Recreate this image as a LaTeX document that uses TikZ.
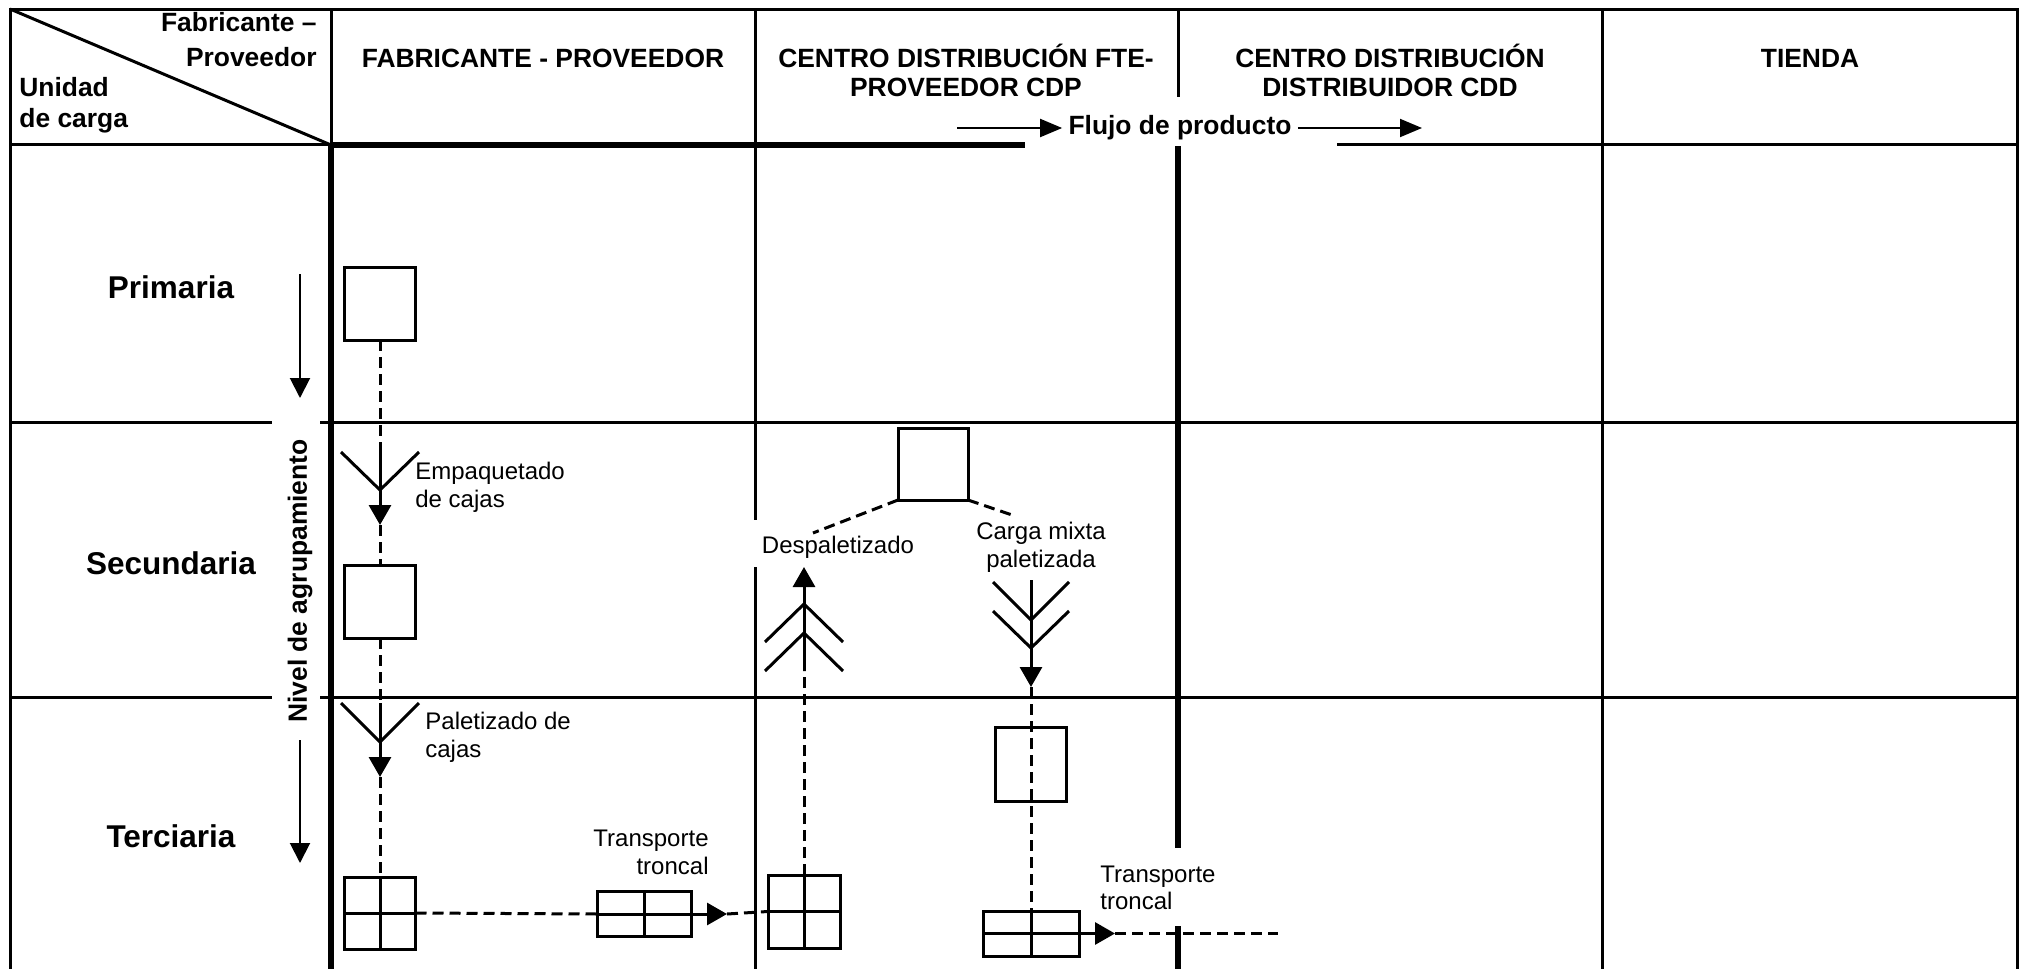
\documentclass[tikz,border=0pt]{standalone}
\usepackage{fontspec}
\setmainfont{Liberation Sans}
\usetikzlibrary{arrows.meta}
\begin{document}
\begin{tikzpicture}[x=0.5pt,y=-0.5pt,
  gridthin/.style={line width=1.5pt},
  gridthick/.style={line width=2.8pt},
  box/.style={draw, line width=1.5pt, inner sep=0pt, outer sep=0pt},
  inner/.style={line width=1.5pt},
  flow/.style={line width=1.5pt, dash pattern=on 5.5pt off 3pt},
  solidflow/.style={line width=1.5pt},
  tri/.style={-{Triangle[length=10pt,width=11pt]}},
  levelarrow/.style={line width=1pt, -{Triangle[length=10pt,width=10pt]}},
  flujoarrow/.style={line width=1pt, -{Triangle[length=11pt,width=9pt]}},
  hdr/.style={font=\fontsize{13.2}{15}\selectfont\bfseries, inner sep=0pt},
  rowlbl/.style={font=\fontsize{15.75}{18}\selectfont\bfseries, inner sep=0pt},
  note/.style={font=\fontsize{12}{14}\selectfont, inner sep=0pt},
]
\useasboundingbox (0,0) rectangle (2026,969);

% ---------- table grid ----------
\draw[gridthin, line cap=rect] (10,969) -- (10,9) -- (2017,9) -- (2017,969);
\draw[gridthin] (10,9) -- (331,145);
% header bottom line
\draw[gridthin] (10,144) -- (331,144);
\draw[gridthick] (331,145) -- (1025,145);
\draw[gridthin] (1337,144) -- (2017,144);
% columns
\draw[gridthin] (331,9) -- (331,145);
\draw[gridthick] (331,145) -- (331,969);
\draw[gridthin] (755,9) -- (755,520);
\draw[gridthin] (755,567) -- (755,969);
\draw[gridthin] (1178,9) -- (1178,97);
\draw[gridthick] (1178,146) -- (1178,848);
\draw[gridthick] (1178,926) -- (1178,969);
\draw[gridthin] (1602,9) -- (1602,969);
% rows
\draw[gridthin] (10,422) -- (272,422);
\draw[gridthin] (320,422) -- (2017,422);
\draw[gridthin] (10,697) -- (272,697);
\draw[gridthin] (320,697) -- (2017,697);

% ---------- header texts ----------
\node[hdr, anchor=base east] (fp1) at (317,32) {Fabricante –};
\node[hdr, anchor=base east] (fp2) at (317,66) {Proveedor};
\node[hdr, anchor=base west] (uc1) at (19,97) {Unidad};
\node[hdr, anchor=base west] (uc2) at (19,127) {de carga};

\node[hdr, anchor=base] (hfab) at (543,67) {FABRICANTE - PROVEEDOR};
\node[hdr, anchor=base] (hcdp1) at (966,67) {CENTRO DISTRIBUCIÓN FTE-};
\node[hdr, anchor=base] (hcdp2) at (966,97) {PROVEEDOR CDP};
\node[hdr, anchor=base] (hcdd1) at (1390,67) {CENTRO DISTRIBUCIÓN};
\node[hdr, anchor=base] (hcdd2) at (1390,97) {DISTRIBUIDOR CDD};
\node[hdr, anchor=base] (htienda) at (1810,67) {TIENDA};

\node[hdr, anchor=base, inner sep=3pt] (flujo) at (1180,134) {Flujo de producto};
\coordinate (fa1) at (957,128);
\coordinate (fa2) at (1422,128);
\draw[flujoarrow] (fa1) -- (flujo.west |- fa1);
\draw[flujoarrow] (flujo.east |- fa2) -- (fa2);

% ---------- row labels ----------
\node[rowlbl, anchor=base] (prim) at (171,298) {Primaria};
\node[rowlbl, anchor=base] (secu) at (171,574) {Secundaria};
\node[rowlbl, anchor=base] (terc) at (171,847) {Terciaria};
\node[hdr, rotate=90] (nivel) at (300,581) {Nivel de agrupamiento};
\coordinate (la1s) at (300,274);
\coordinate (la1e) at (300,398);
\coordinate (la2s) at (300,740);
\coordinate (la2e) at (300,863);
\draw[levelarrow] (la1s) -- (la1e);
\draw[levelarrow] (la2s) -- (la2e);

% ---------- Fabricante column ----------
\node[box, minimum width=35.5pt, minimum height=36.5pt] (b1) at (380,303.5) {};
\node[box, minimum width=35.5pt, minimum height=36.5pt] (b2) at (380,601.5) {};
\node[box, minimum width=35.5pt, minimum height=36pt] (b3) at (380,913) {};
\node[box, minimum width=47pt, minimum height=22.5pt] (b4) at (644,914) {};
\draw[inner] (b3.north) -- (b3.south);
\draw[inner] (b3.west) -- (b3.east);
\draw[inner] (b4.north) -- (b4.south);
\draw[inner] (b4.west) -- (b4.east);

\coordinate (v1top) at (380,452);
\coordinate (v1) at (380,490);
\coordinate (v1l) at (341,452);
\coordinate (v1r) at (419,452);
\coordinate (v1tip) at (380,525);
\draw[flow] (b1.south) -- (v1top);
\draw[solidflow] (v1l) -- (v1) -- (v1r);
\draw[solidflow, tri] (v1top) -- (v1tip);
\draw[flow] (v1tip) -- (b2.north);

\coordinate (v2top) at (380,703);
\coordinate (v2) at (380,742);
\coordinate (v2l) at (341,703);
\coordinate (v2r) at (419,703);
\coordinate (v2tip) at (380,777);
\draw[flow] (b2.south) -- (v2top);
\draw[solidflow] (v2l) -- (v2) -- (v2r);
\draw[solidflow, tri] (v2top) -- (v2tip);
\draw[flow] (v2tip) -- (b3.north);

\node[note, anchor=base west] (emp1) at (415,479) {Empaquetado};
\node[note, anchor=base west] (emp2) at (415,507) {de cajas};
\node[note, anchor=base west] (pal1) at (425,729) {Paletizado de};
\node[note, anchor=base west] (pal2) at (425,757) {cajas};
\node[note, anchor=base east] (tr1) at (709,846) {Transporte};
\node[note, anchor=base east] (tr2) at (709,874) {troncal};

\coordinate (t1tip) at (727,914);
\draw[flow] (b3.east) -- (b4.west);
\draw[solidflow, tri] (b4.east) -- (t1tip);

% ---------- CDP column ----------
\node[box, minimum width=36pt, minimum height=36.5pt] (b5) at (804,911.5) {};
\draw[inner] (b5.north) -- (b5.south);
\draw[inner] (b5.west) -- (b5.east);
\draw[flow] (t1tip) -- (b5.west);

\node[box, minimum width=35pt, minimum height=36pt] (b8) at (933,464) {};
\node[note, anchor=base] (desp) at (838,553) {Despaletizado};
\node[note, anchor=base] (cm1) at (1041,539) {Carga mixta};
\node[note, anchor=base] (cm2) at (1041,567) {paletizada};
\coordinate (d1) at (813,533);
\coordinate (c1) at (1015,516);
\draw[flow] (b8.south west) -- (d1);
\draw[flow] (b8.south east) -- (c1);

\coordinate (c2b) at (804,671);
\coordinate (uptip) at (804,567);
\draw[flow] (b5.north) -- (c2b);
\draw[solidflow, tri] (c2b) -- (uptip);
\coordinate (ch1) at (804,604);
\coordinate (ch1l) at (765,642);
\coordinate (ch1r) at (843,642);
\coordinate (ch2) at (804,633);
\coordinate (ch2l) at (765,671);
\coordinate (ch2r) at (843,671);
\draw[solidflow] (ch1l) -- (ch1) -- (ch1r);
\draw[solidflow] (ch2l) -- (ch2) -- (ch2r);

\coordinate (dv1) at (1031,620);
\coordinate (dv1l) at (993,582);
\coordinate (dv1r) at (1069,582);
\coordinate (dv2) at (1031,648);
\coordinate (dv2l) at (993,611);
\coordinate (dv2r) at (1069,611);
\coordinate (dstem) at (1031,580);
\coordinate (dtip) at (1031,687);
\draw[solidflow] (dv1l) -- (dv1) -- (dv1r);
\draw[solidflow] (dv2l) -- (dv2) -- (dv2r);
\draw[solidflow, tri] (dstem) -- (dtip);

\node[box, minimum width=35.5pt, minimum height=37pt] (b6) at (1031,764.5) {};
\node[box, minimum width=48pt, minimum height=22.5pt] (b7) at (1031,933.5) {};
\draw[inner] (b7.north) -- (b7.south);
\draw[inner] (b7.west) -- (b7.east);
\draw[flow] (dtip) -- (b7.north);

\coordinate (t2tip) at (1115,933.5);
\coordinate (t2end) at (1278,933.5);
\draw[solidflow, tri] (b7.east) -- (t2tip);
\draw[flow] (t2tip) -- (t2end);
\node[note, anchor=base west] (tr3) at (1100,882) {Transporte};
\node[note, anchor=base west] (tr4) at (1100,909) {troncal};
\end{tikzpicture}
\end{document}
